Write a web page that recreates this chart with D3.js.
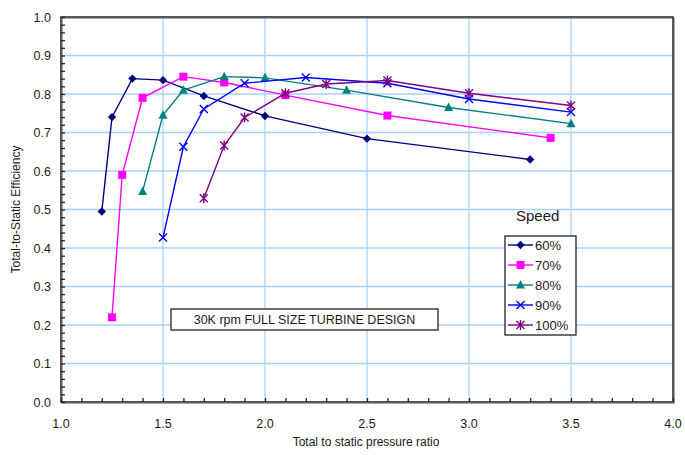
<!DOCTYPE html>
<html>
<head>
<meta charset="utf-8">
<script src="https://cdn.jsdelivr.net/npm/d3@7"></script>
<style>
body { margin: 0; background: #fff; }
text { font-family: "Liberation Sans", Arial, sans-serif; fill: #1a1a1a; }
</style>
</head>
<body>
<div id="chart_div"></div>
<script>
// speed lines: pressure ratio vs efficiency
var speeds = ["60%", "70%", "80%", "90%", "100%"];
var colors = ["#000080", "#ff00ff", "#008080", "#0000ff", "#800080"];
var markers = ["diamond", "square", "triangle", "cross", "star"];

var pr60 = [1.2, 1.25, 1.35, 1.5, 1.7, 2.0, 2.5, 3.3];
var eff60 = [0.495, 0.740, 0.840, 0.836, 0.795, 0.743, 0.684, 0.630];
var pr70 = [1.25, 1.3, 1.4, 1.6, 1.8, 2.1, 2.6, 3.4];
var eff70 = [0.220, 0.590, 0.790, 0.845, 0.830, 0.797, 0.744, 0.686];
var pr80 = [1.4, 1.5, 1.6, 1.8, 2.0, 2.4, 2.9, 3.5];
var eff80 = [0.547, 0.745, 0.810, 0.845, 0.842, 0.810, 0.765, 0.723];
var pr90 = [1.5, 1.6, 1.7, 1.9, 2.2, 2.6, 3.0, 3.5];
var eff90 = [0.427, 0.663, 0.761, 0.828, 0.843, 0.828, 0.787, 0.753];
var pr100 = [1.7, 1.8, 1.9, 2.1, 2.3, 2.6, 3.0, 3.5];
var eff100 = [0.529, 0.666, 0.739, 0.802, 0.826, 0.835, 0.802, 0.770];

var xTicks = [1.0, 1.5, 2.0, 2.5, 3.0, 3.5, 4.0];
var yTicks = [0.0, 0.1, 0.2, 0.3, 0.4, 0.5, 0.6, 0.7, 0.8, 0.9, 1.0];

var series = [
    {name: speeds[0], x: pr60, y: eff60},
    {name: speeds[1], x: pr70, y: eff70},
    {name: speeds[2], x: pr80, y: eff80},
    {name: speeds[3], x: pr90, y: eff90},
    {name: speeds[4], x: pr100, y: eff100}
];

var width = 685, height = 455;
var pLeft = 61, pRight = 673, pTop = 17, pBottom = 402;

var svg = d3.select("#chart_div")
    .append("svg")
    .attr("width", width)
    .attr("height", height);

var x = d3.scaleLinear().domain([1, 4]).range([pLeft, pRight]);
var y = d3.scaleLinear().domain([0, 1]).range([pBottom, pTop]);

// gridlines
var grid = svg.append("g").attr("stroke", "#a9d2fb").attr("stroke-width", 1.3);
grid.selectAll(".hg")
    .data(yTicks.slice(1, -1))
    .enter().append("line")
    .attr("x1", pLeft).attr("x2", pRight)
    .attr("y1", function(d) { return y(d); })
    .attr("y2", function(d) { return y(d); });
grid.selectAll(".vg")
    .data(xTicks.slice(1, -1))
    .enter().append("line")
    .attr("y1", pTop).attr("y2", pBottom)
    .attr("x1", function(d) { return x(d); })
    .attr("x2", function(d) { return x(d); });

// frame with a soft shadow
svg.append("rect")
    .attr("x", pLeft + 1.5).attr("y", pTop + 1.5)
    .attr("width", pRight - pLeft).attr("height", pBottom - pTop)
    .attr("fill", "none").attr("stroke", "#aaa").attr("stroke-width", 1);
svg.append("rect")
    .attr("x", pLeft).attr("y", pTop)
    .attr("width", pRight - pLeft).attr("height", pBottom - pTop)
    .attr("fill", "none").attr("stroke", "#222").attr("stroke-width", 1.5);

// inner ticks
var xAxis = d3.axisBottom(x).tickValues(d3.range(1, 4.001, 0.1)).tickSize(-4).tickFormat("");
svg.append("g")
    .attr("transform", "translate(0," + pBottom + ")")
    .call(xAxis)
    .call(function(g) { g.select(".domain").remove(); g.selectAll("line").attr("stroke", "#222").attr("stroke-width", 1.3); });

var yAxis = d3.axisLeft(y).tickValues(d3.range(0, 1.001, 0.02)).tickSize(-4).tickFormat("");
svg.append("g")
    .attr("transform", "translate(" + pLeft + ",0)")
    .call(yAxis)
    .call(function(g) { g.select(".domain").remove(); g.selectAll("line").attr("stroke", "#222").attr("stroke-width", 1.3); });

// tick labels
svg.selectAll(".xl")
    .data(xTicks)
    .enter().append("text")
    .attr("x", function(d) { return x(d); })
    .attr("y", 428)
    .attr("text-anchor", "middle")
    .attr("font-size", 12.5)
    .text(function(d) { return d.toFixed(1); });

svg.selectAll(".yl")
    .data(yTicks)
    .enter().append("text")
    .attr("x", 51)
    .attr("y", function(d) { return y(d) + 4.5; })
    .attr("text-anchor", "end")
    .attr("font-size", 12.5)
    .text(function(d) { return d.toFixed(1); });

// axis titles
svg.append("text")
    .attr("x", 366).attr("y", 446)
    .attr("text-anchor", "middle")
    .attr("font-size", 12)
    .text("Total to static pressure ratio");

svg.append("text")
    .attr("transform", "translate(20," + ((pTop + pBottom) / 2) + ") rotate(-90)")
    .attr("text-anchor", "middle")
    .attr("font-size", 12)
    .text("Total-to-Static Efficiency");

// marker shapes
function drawMarker(g, kind, color) {
    if (kind == "diamond") {
        g.append("path").attr("d", "M0,-4.2L4.2,0L0,4.2L-4.2,0Z").attr("fill", color);
    } else if (kind == "square") {
        g.append("rect").attr("x", -4).attr("y", -4).attr("width", 8).attr("height", 8).attr("fill", color);
    } else if (kind == "triangle") {
        g.append("path").attr("d", "M0,-5L4.5,3.5L-4.5,3.5Z").attr("fill", color);
    } else if (kind == "cross") {
        g.append("path").attr("d", "M-4,-4L4,4M-4,4L4,-4").attr("stroke", color).attr("stroke-width", 1.4);
    } else {
        g.append("path").attr("d", "M-4,-4L4,4M-4,4L4,-4M0,-5L0,5").attr("stroke", color).attr("stroke-width", 1.4);
    }
}

var line = d3.line()
    .x(function(d) { return x(d[0]); })
    .y(function(d) { return y(d[1]); });

series.forEach(function(s, i) {
    var pts = s.x.map(function(v, j) { return [v, s.y[j]]; });
    svg.append("path")
        .datum(pts)
        .attr("d", line)
        .attr("fill", "none")
        .attr("stroke", colors[i])
        .attr("stroke-width", 1.4);
    pts.forEach(function(p) {
        var g = svg.append("g").attr("transform", "translate(" + x(p[0]) + "," + y(p[1]) + ")");
        drawMarker(g, markers[i], colors[i]);
    });
});

// legend
svg.append("text")
    .attr("x", 516).attr("y", 221)
    .attr("font-size", 15)
    .text("Speed");

svg.append("rect")
    .attr("x", 505).attr("y", 236)
    .attr("width", 71).attr("height", 99)
    .attr("fill", "#fff").attr("stroke", "#222").attr("stroke-width", 1.3);

var legend = svg.selectAll(".lg")
    .data(speeds)
    .enter().append("g")
    .attr("transform", function(d, i) { return "translate(0," + (245 + i * 20) + ")"; });
legend.append("line")
    .attr("x1", 508).attr("x2", 533)
    .attr("y1", 0).attr("y2", 0)
    .attr("stroke", function(d, i) { return colors[i]; })
    .attr("stroke-width", 1.4);
legend.each(function(d, i) {
    var g = d3.select(this).append("g").attr("transform", "translate(520.5,0)");
    drawMarker(g, markers[i], colors[i]);
});
legend.append("text")
    .attr("x", 535).attr("y", 5)
    .attr("font-size", 13)
    .text(function(d) { return d; });

// note box
svg.append("rect")
    .attr("x", 171).attr("y", 309)
    .attr("width", 267).attr("height", 21)
    .attr("fill", "#fff").attr("stroke", "#222").attr("stroke-width", 1.3);
svg.append("text")
    .attr("x", 304.5).attr("y", 324)
    .attr("text-anchor", "middle")
    .attr("font-size", 12.5)
    .text("30K rpm FULL SIZE TURBINE DESIGN");
</script>
</body>
</html>
